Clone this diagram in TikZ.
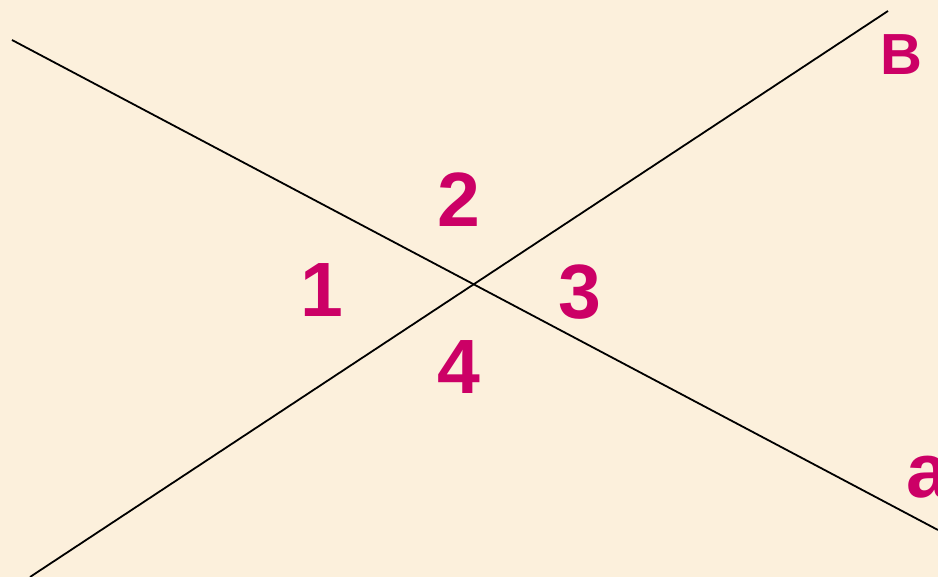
\documentclass[tikz,border=0pt]{standalone}
\usepackage{fontspec}
\setmainfont{Liberation Sans}
\definecolor{bgc}{HTML}{FCF0DC}
\definecolor{lab}{HTML}{CC0066}
\begin{document}
\begin{tikzpicture}[x=1pt,y=-1pt,
  lbl/.style={inner sep=0pt,text=lab,font=\bfseries\fontsize{77}{77}\selectfont},
  lblB/.style={inner sep=0pt,text=lab,font=\bfseries\fontsize{58}{58}\selectfont},
  ln/.style={line width=1.8pt,black}]
\clip (0,0) rectangle (938,577);
\fill[bgc] (0,0) rectangle (938,577);
\coordinate (A1) at (12,40);
\coordinate (A2) at (938,530);
\coordinate (B1) at (30,577);
\coordinate (B2) at (888,11);
\draw[ln] (A1) -- (A2);
\draw[ln] (B1) -- (B2);
\node[lbl] (n1) at (322,290) {1};
\node[lbl] (n2) at (459,200) {2};
\node[lbl] (n3) at (580,292) {3};
\node[lbl] (n4) at (459,367) {4};
\node[lblB] (nB) at (901,55) {B};
\node[lbl,anchor=west] (na) at (906,477) {a};
\end{tikzpicture}
\end{document}
